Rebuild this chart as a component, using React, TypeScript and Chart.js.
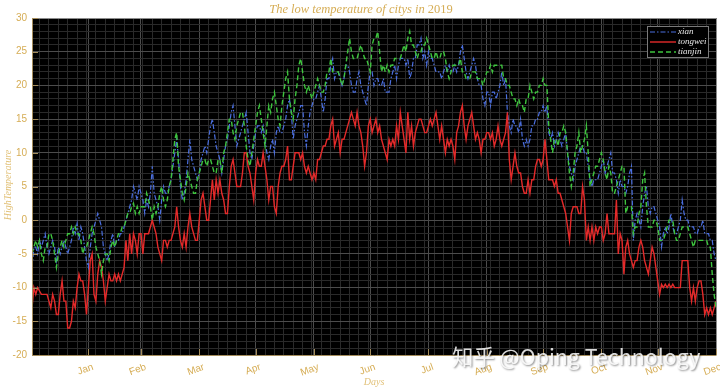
import React, { useEffect, useRef } from "react";
import { Chart, registerables } from "chart.js";

Chart.register(...registerables);

const chartTitle = "The low temperature of citys in ";
const chartTitleYear = "2019";
const xAxisTitle = "Days";
const yAxisTitle = "HighTemperature";
const monthLabels = ["Jan", "Feb", "Mar", "Apr", "May", "Jun", "Jul", "Aug", "Sep", "Oct", "Nov", "Dec"];
const monthEndDays = [31, 59, 90, 120, 151, 181, 212, 243, 273, 304, 334, 365];
const yTickValues = [-20, -15, -10, -5, 0, 5, 10, 15, 20, 25, 30];
const seriesNames = ["xian", "tongwei", "tianjin"];

const xian = [
  -7, -4, -4, -5, -3, -4, -3, -2, -4, -5,
  -4, -3, -4, -6, -4, -5, -4, -3, -4, -5,
  -4, -3, -1, -2, -0.5, -3, -1, -2, -4, -6,
  -7, -4, -2, -1, 0, 1, 0, -1, -4, -5,
  -6, -5, -3, -2, -4, -3, -3, -2, -2, -1,
  0, 1, 2, 3, 5, 4, 3, 5, 4, 3,
  1, 3, 2, 4, 8, 4, 3, 2, 0, 3,
  5, 4, 4, 5, 6, 8, 10, 12, 9, 5,
  3, 4, 6, 9, 12, 9, 8, 7, 6, 7,
  9, 10, 11, 10, 12, 14, 15, 13, 11, 10,
  9, 7, 9, 11, 12, 14, 16, 17, 14, 11,
  12, 13, 14, 15, 16, 13, 10, 9, 11, 13,
  14, 14, 13, 14, 12, 10, 9, 11, 12, 10,
  13, 14, 13, 13, 14, 15, 17, 18, 16, 12,
  14, 15, 16, 17, 17, 13, 11, 14, 16, 17,
  18, 18, 19, 20, 18, 16, 18, 21, 21, 23,
  24, 21, 22, 22, 21, 20, 21, 23, 23, 22,
  20, 19, 19, 21, 22, 20, 19, 18, 17, 20,
  22, 22, 20, 21, 21, 20, 20, 21, 19, 19,
  19, 21, 22, 23, 21, 23, 24, 24, 24, 23,
  24, 21, 22, 24, 24, 26, 26, 27, 24, 25,
  23, 25, 24, 24, 23, 22, 22, 22, 21, 22,
  23, 22, 23, 22, 22, 23, 22, 23, 25, 26,
  24, 22, 21, 22, 23, 24, 23, 21, 20, 20,
  18, 17, 19, 19, 17, 19, 19, 18, 19, 20,
  22, 20, 21, 16, 14, 13, 15, 14, 14, 13,
  15, 12, 11, 12, 11, 12, 14, 14, 15, 15,
  16, 16, 17, 16, 17, 13, 12, 13, 11, 12,
  13, 12, 11, 12, 13, 10, 8, 7, 6, 8,
  9, 10, 11, 11, 10, 10, 8, 6, 5, 6,
  6, 6, 7, 8, 9, 7, 8, 9, 10, 7,
  7, 6, 4, 6, 5, 5, 4, 5, 7, 8,
  -3, 0, 1, 0, -1, 2, 4, 5, 2, 1,
  2, 2, 1, 0, -1, -4, -2, -1, -2, -1,
  1, -1, -2, -2, -1, 0, 3, 1, 0, 0,
  -1, -1, -1, -2, -2, -1, -1, 0, -2, -2,
  -2, -3, -3, -5, -6,
];

const tongwei = [
  -13, -10, -11, -10, -10.5, -11, -11, -11, -11, -12,
  -13, -11, -12, -14, -14, -11, -9, -12, -12, -16,
  -16, -15, -12, -13, -10, -8, -9, -9, -11, -14,
  -10, -6, -5, -11, -12, -8, -6, -7, -9, -12,
  -10, -8, -9, -9, -8, -9, -8, -9, -8, -7,
  -3, -6, -2, -5, -2, -3, -5, -2, -2, -5,
  -2, -2, -2, -1, 0, -1, -2, -4, -5, -6,
  -3, -3, -4, -3, -3, -2, -1, 2, -1, -3,
  -4, -2, -4, -1, 1, -1, -2, -3, -3, 0,
  3, 4, 2, 0, 0, 3, 6, 3, 6, 4,
  6, 4, 3, 1, 1, 5, 8, 9, 7, 5,
  5, 5, 7, 10, 10, 8, 7, 5, 3, 7,
  9, 8, 8, 10, 8, 6, 3, 5, 5, 2,
  1, 5, 7, 8, 8, 9, 11, 6, 6, 8,
  10, 10, 10, 9, 10, 8, 7, 8, 7, 6,
  7, 6, 9, 9, 10, 11, 11, 12, 12, 14,
  15, 11, 12, 13, 10, 12, 12, 13, 14, 15,
  16, 15, 14, 16, 14, 13, 11, 8, 10, 14,
  15, 13, 14, 15, 13, 14, 12, 11, 10, 9,
  12, 11, 12, 11, 14, 12, 16, 14, 12, 10,
  16, 12, 14, 11, 13, 14, 15, 15, 14, 13,
  13, 14, 15, 14, 15, 16, 14, 12, 14, 12,
  10, 12, 11, 12, 11, 9, 13, 14, 16, 17,
  14, 12, 14, 15, 16, 14, 12, 13, 12, 10,
  12, 12, 13, 13, 12, 13, 11, 12, 14, 12,
  11, 12, 13, 16, 9, 6, 8, 10, 8, 7,
  7, 5, 4, 4, 6, 4, 6, 6, 8, 9,
  9, 8, 9, 12, 9, 6, 6, 6, 5, 6,
  4, 4, 3, 2, 1, -1, -3, 1, 2, 2,
  2, 1, 1, 5, 3, -3, -1, -3, -1, -3,
  -1, -2, -1, -1, -3, -2, 1, -2, -2, -2,
  -2, 3, -5, -2, -3, -8, -4, -3, -5, -6,
  -7, -6, -6, -4, -3, -4, -6, -7, -8, -6,
  -4, -5, -7, -9, -11, -9.5, -10, -9.5, -10, -9.5,
  -10, -9.5, -10, -10, -10, -10, -6, -6, -6, -6,
  -10, -12, -10, -12, -10, -9, -9, -11, -14, -13,
  -14, -13, -14, -13, -12,
];

const tianjin = [
  -5, -4, -3, -4, -3, -5, -6, -4, -4, -2,
  -2, -3, -5, -7, -5, -4, -3, -4, -3, -2,
  -2, -1, -2, -1, -2, -2, -3, -5, -4, -4,
  -3, -2, -1, -2, -4, -5, -6, -8, -6, -5,
  -5, -6, -4, -3, -4, -3, -2, -2, -1, -1,
  0, 1, 1, 2, 2.5, 1, 2, 1, 2, 2,
  2, 4, 3, 2, 0, 2, 1, 2, 4, 5,
  3, 2, 3, 5, 6, 9, 12, 13, 8, 6,
  4, 3, 5, 7, 6, 5, 4, 4, 6, 7,
  8, 9, 9, 8, 9, 9, 8, 7, 7, 9,
  9, 7, 10, 11, 13, 15, 15, 13, 12, 14,
  15, 16, 16, 14, 11, 9, 8, 10, 12, 14,
  16, 17, 15, 13, 11, 14, 17, 16, 18, 19,
  17, 15, 14, 17, 19, 21, 22, 18, 16, 15,
  18, 20, 23, 24, 22, 20, 19, 20, 19, 18,
  19, 20, 21, 20, 19, 19, 20, 22, 22, 24,
  22, 22, 22, 22, 21, 20, 21, 23, 25, 27,
  25, 24, 24, 24, 25, 26, 25, 24, 24, 23,
  22, 26, 27, 27, 28, 25, 22, 23, 22, 23,
  22, 23, 23, 24, 24, 24, 24, 25, 26, 25,
  27, 28, 26, 26, 25, 24, 25, 25, 26, 26,
  27, 26, 25, 24, 24, 25, 24, 24, 25, 25,
  24, 22, 21, 22, 23, 23, 23, 23, 24, 22,
  22, 21, 21, 21, 22, 22, 22, 21, 21, 21,
  20, 21, 22, 22, 23, 22, 23, 23, 23, 23,
  23, 21, 21, 20, 20, 19, 18, 18, 17, 18,
  17, 17, 16, 18, 18, 20, 19, 18, 19, 19,
  20, 20, 21, 20, 20, 14, 12, 10, 12, 12,
  11, 13, 13, 14, 13, 10, 7, 5, 7, 10,
  11, 13, 10, 11, 12, 14, 10, 5, 6, 7,
  8, 8, 9, 10, 9, 7, 6, 8, 7, 4,
  4, 5, 6, 7, 8, 8, 1, 2, 2, 2,
  -2, -1, -1, 1, 2, 6, 7, 2, -1, -1,
  -1, 0, 0, -1, -3, -3, -3, -2, -1, 0,
  0, 0, -2, -3, -3, -2, -1, -1, -1, -1,
  -2, -3, -4, -3, -3, -3, -3, -3, -3, -3,
  -4, -4, -8, -11, -13,
];

const GOLD = "#d6ad55";
const GOLD_LIGHT = "#e2c27a";
const AXIS_TAN = "#a58d5c";

const isMajorDay = (v: number) => monthEndDays.includes(v);
const isMajorY = (v: number) => yTickValues.includes(v);

const decorPlugin = {
  id: "decor",
  beforeDraw(chart: any) {
    const { ctx, chartArea: a } = chart;
    ctx.save();
    ctx.fillStyle = "#ffffff";
    ctx.fillRect(0, 0, chart.width, chart.height);
    ctx.fillStyle = "#000000";
    ctx.fillRect(a.left, a.top, a.right - a.left, a.bottom - a.top);
    ctx.restore();
  },
  afterDraw(chart: any) {
    const { ctx, chartArea: a } = chart;
    const xs = chart.scales.x;
    const ys = chart.scales.y;
    ctx.save();

    // box
    ctx.lineWidth = 1;
    ctx.strokeStyle = "#8c8c8c";
    ctx.beginPath();
    ctx.moveTo(a.left, a.top + 0.5);
    ctx.lineTo(a.right + 0.5, a.top + 0.5);
    ctx.lineTo(a.right + 0.5, a.bottom);
    ctx.stroke();
    ctx.strokeStyle = AXIS_TAN;
    ctx.beginPath();
    ctx.moveTo(a.left + 0.5, a.top);
    ctx.lineTo(a.left + 0.5, a.bottom + 0.5);
    ctx.lineTo(a.right + 0.5, a.bottom + 0.5);
    ctx.stroke();

    // inward ticks
    ctx.strokeStyle = AXIS_TAN;
    ctx.beginPath();
    yTickValues.forEach((v) => {
      const y = Math.round(ys.getPixelForValue(v)) + 0.5;
      ctx.moveTo(a.left, y);
      ctx.lineTo(a.left + 6, y);
    });
    monthEndDays.forEach((d) => {
      const x = Math.round(xs.getPixelForValue(d)) + 0.5;
      ctx.moveTo(x, a.bottom);
      ctx.lineTo(x, a.bottom - 6);
    });
    ctx.stroke();

    // y tick labels
    ctx.fillStyle = GOLD;
    ctx.font = "10px 'Liberation Sans', Arial, sans-serif";
    ctx.textAlign = "right";
    ctx.textBaseline = "middle";
    yTickValues.forEach((v) => {
      ctx.fillText(String(v), a.left - 5, ys.getPixelForValue(v));
    });

    // month labels (rotated)
    ctx.textAlign = "right";
    ctx.textBaseline = "top";
    monthEndDays.forEach((d, i) => {
      const x = xs.getPixelForValue(d);
      ctx.save();
      ctx.translate(x + 3, a.bottom + 7);
      ctx.rotate(-20 * Math.PI / 180);
      ctx.fillText(monthLabels[i], 0, 0);
      ctx.restore();
    });

    // axis titles
    ctx.fillStyle = GOLD_LIGHT;
    ctx.font = "italic 10px 'Liberation Serif', 'DejaVu Serif', serif";
    ctx.textAlign = "center";
    ctx.textBaseline = "alphabetic";
    ctx.fillText(xAxisTitle, (a.left + a.right) / 2, 385);
    ctx.save();
    ctx.translate(11, 185);
    ctx.rotate(-Math.PI / 2);
    ctx.fillText(yAxisTitle, 0, 0);
    ctx.restore();

    // title
    ctx.fillStyle = GOLD;
    ctx.textAlign = "left";
    ctx.font = "italic 12.5px 'Liberation Serif', 'DejaVu Serif', serif";
    const w1 = ctx.measureText(chartTitle).width;
    ctx.font = "12.5px 'Liberation Serif', 'DejaVu Serif', serif";
    const w2 = ctx.measureText(chartTitleYear).width;
    const startX = 361 - (w1 + w2) / 2;
    ctx.font = "italic 12.5px 'Liberation Serif', 'DejaVu Serif', serif";
    ctx.fillText(chartTitle, startX, 13);
    ctx.font = "12.5px 'Liberation Serif', 'DejaVu Serif', serif";
    ctx.fillText(chartTitleYear, startX + w1, 13);

    // legend
    const lx = 647.5, ly = 26.5, lw = 61, lh = 31;
    ctx.fillStyle = "#000000";
    ctx.fillRect(lx, ly, lw, lh);
    ctx.strokeStyle = "#7a7a7a";
    ctx.lineWidth = 1;
    ctx.strokeRect(lx, ly, lw, lh);
    const dsets = chart.data.datasets;
    ctx.font = "italic 9px 'Liberation Serif', 'DejaVu Serif', serif";
    ctx.textBaseline = "middle";
    dsets.forEach((ds: any, i: number) => {
      const y = 32 + i * 10;
      ctx.strokeStyle = ds.borderColor;
      ctx.lineWidth = ds.borderWidth;
      ctx.setLineDash(ds.borderDash || []);
      ctx.beginPath();
      ctx.moveTo(650, y);
      ctx.lineTo(676, y);
      ctx.stroke();
      ctx.setLineDash([]);
      ctx.fillStyle = "#e8e8e8";
      ctx.fillText(ds.label, 678, y);
    });

    // watermark
    const wm = "知乎 @Oping Technology";
    ctx.font = "20px 'Noto Sans CJK SC', 'Noto Sans', sans-serif";
    const wmw = ctx.measureText(wm).width;
    const wmSize = 20 * 248 / wmw;
    ctx.font = `${wmSize.toFixed(1)}px 'Noto Sans CJK SC', 'Noto Sans', sans-serif`;
    ctx.textAlign = "left";
    ctx.textBaseline = "alphabetic";
    ctx.shadowColor = "rgba(0,0,0,0.55)";
    ctx.shadowBlur = 2;
    ctx.shadowOffsetX = 1;
    ctx.shadowOffsetY = 1;
    ctx.fillStyle = "rgba(255,255,255,0.85)";
    ctx.fillText(wm, 452, 365);
    ctx.restore();
  },
};

export default function App() {
  const canvasRef = useRef<HTMLCanvasElement | null>(null);

  useEffect(() => {
    document.body.style.margin = "0";
    const canvas = canvasRef.current;
    if (!canvas) return;
    const days = xian.map((_, i) => i + 1);
    const toPts = (arr: number[]) => arr.map((v, i) => ({ x: days[i], y: v }));

    const chart = new Chart(canvas, {
      type: "line",
      data: {
        datasets: [
          {
            label: seriesNames[0],
            data: toPts(xian),
            borderColor: "#4b6fe0",
            borderWidth: 1.2,
            borderDash: [5, 2, 1.5, 2],
            pointRadius: 0,
            tension: 0,
            order: 3,
          },
          {
            label: seriesNames[1],
            data: toPts(tongwei),
            borderColor: "#e42a2a",
            borderWidth: 1.4,
            pointRadius: 0,
            tension: 0,
            order: 2,
          },
          {
            label: seriesNames[2],
            data: toPts(tianjin),
            borderColor: "#3ec43e",
            borderWidth: 1.4,
            borderDash: [5, 3],
            pointRadius: 0,
            tension: 0,
            order: 1,
          },
        ],
      },
      options: {
        responsive: false,
        animation: false,
        devicePixelRatio: 1,
        layout: { padding: { left: 32, top: 18, right: 4, bottom: 34 } },
        plugins: {
          legend: { display: false },
          title: { display: false },
          tooltip: { enabled: false },
        },
        scales: {
          x: {
            type: "linear",
            min: 1,
            max: 365,
            afterBuildTicks: (axis: any) => {
              const vals: number[] = [];
              for (let d = 5; d < 365; d += 5) vals.push(d);
              monthEndDays.forEach((d) => { if (!vals.includes(d)) vals.push(d); });
              vals.sort((p, q) => p - q);
              axis.ticks = vals.map((v) => ({ value: v }));
            },
            ticks: { display: false },
            grid: {
              drawTicks: false,
              lineWidth: 1,
              color: (c: any) => (c.tick && isMajorDay(c.tick.value) ? "#4c4c4c" : "#2a2a2a"),
            },
            border: { display: false },
          },
          y: {
            type: "linear",
            min: -20,
            max: 30,
            afterBuildTicks: (axis: any) => {
              const vals: number[] = [];
              for (let v = -20; v <= 30; v += 1) vals.push(v);
              axis.ticks = vals.map((v) => ({ value: v }));
            },
            ticks: { display: false },
            grid: {
              drawTicks: false,
              lineWidth: 1,
              color: (c: any) => (c.tick && isMajorY(c.tick.value) ? "#4c4c4c" : "#2a2a2a"),
            },
            border: { display: false },
          },
        },
      },
      plugins: [decorPlugin],
    });

    return () => chart.destroy();
  }, []);

  return (
    <div style={{ width: 720, height: 389 }}>
      <canvas ref={canvasRef} width={720} height={389} style={{ display: "block" }} />
    </div>
  );
}
